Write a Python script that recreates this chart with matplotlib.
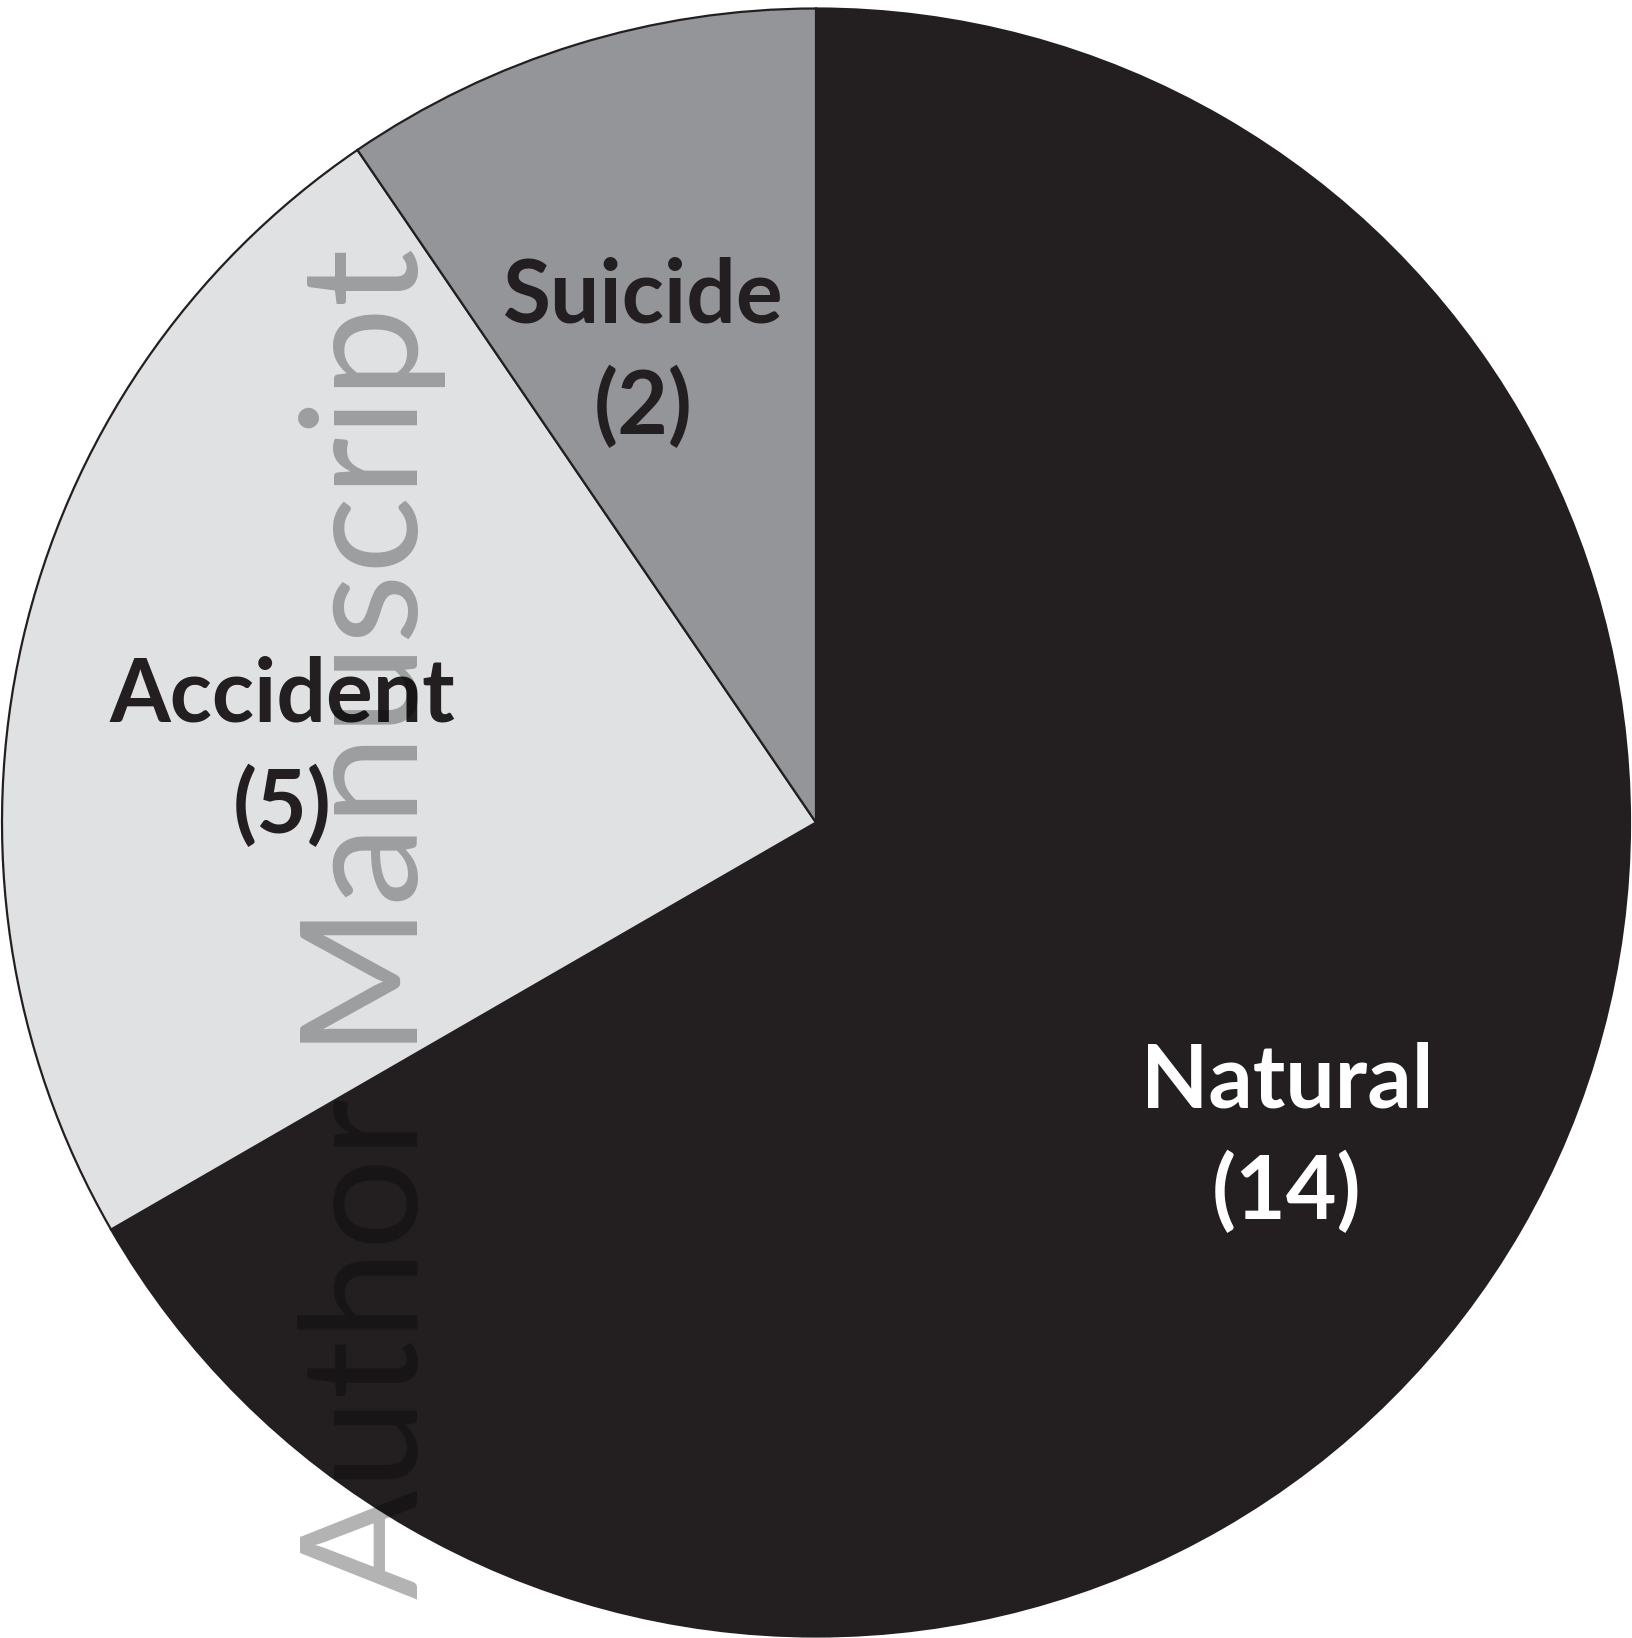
import matplotlib
matplotlib.use("Agg")
import matplotlib.pyplot as plt

W, H = 1632, 1638
labels = ["Natural", "Accident", "Suicide"]
counts = [14, 5, 2]
colors = ["#231f20", "#e0e1e3", "#939598"]
text_colors = ["white", "#231f20", "#231f20"]
# label centres in image pixels (x, y from top)
label_pos = [(1287, 1138), (282, 752), (643, 353)]

plt.rcParams["font.family"] = ["Lato", "DejaVu Sans"]
fig = plt.figure(figsize=(W / 100, H / 100), dpi=100)
ax = fig.add_axes([0, 0, 1, 1])

ax.pie(counts, colors=colors, startangle=90, counterclock=False,
       center=(816, H - 822.5), radius=814, frame=True,
       wedgeprops=dict(edgecolor="#231f20", linewidth=1.6))
ax.set_xlim(0, W); ax.set_ylim(0, H)
ax.set_aspect("equal"); ax.axis("off")

for lab, n, c, (x, y) in zip(labels, counts, text_colors, label_pos):
    ax.text(x, H - y, f"{lab}\n({n})", ha="center", va="center", color=c,
            fontsize=63, fontweight="bold", linespacing=1.42, zorder=5)

# watermark
ax.text(418, H - 1599, "Author Manuscript", rotation=90, rotation_mode="anchor",
        ha="left", va="baseline", fontsize=117, color="black", alpha=0.3, zorder=10)

fig.savefig("out.png", dpi=100)
